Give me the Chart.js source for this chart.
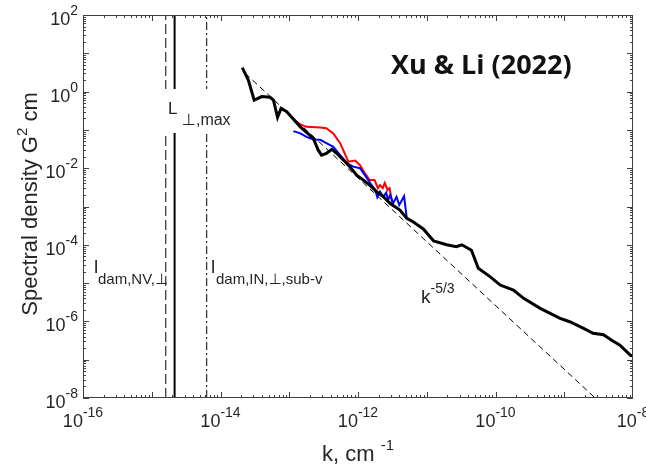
<!DOCTYPE html>
<html>
<head>
<meta charset="utf-8">
<script src="https://cdn.jsdelivr.net/npm/chart.js@4.4.0/dist/chart.umd.min.js"></script>
<style>
  html, body { margin: 0; padding: 0; background: #fff; }
</style>
</head>
<body>
<canvas id="myChart" width="646" height="469"></canvas>
<script>
// measured spectrum (black, thick)
const blackK = [2.07e-14, 2.54e-14, 3.09e-14, 3.98e-14, 5.25e-14, 5.89e-14, 6.76e-14, 7.59e-14, 9.12e-14,
  1.45e-13, 2.24e-13, 2.63e-13, 2.95e-13, 3.47e-13, 4.17e-13, 4.90e-13, 6.17e-13, 7.59e-13, 9.55e-13,
  1.20e-12, 1.48e-12, 1.86e-12, 2.34e-12, 2.95e-12, 4.07e-12, 5.13e-12, 6.31e-12, 8.91e-12,
  1.26e-11, 1.95e-11, 2.69e-11, 3.24e-11, 4.47e-11, 5.62e-11, 8.32e-11,
  1.17e-10, 1.82e-10, 2.57e-10, 4.47e-10, 8.71e-10, 1.20e-9, 1.91e-9, 2.63e-9, 3.72e-9, 4.90e-9, 6.46e-9, 9.12e-9, 1.0e-8];
const blackS = [4.21, 2.01, 0.60, 0.74, 0.71, 0.60, 0.214, 0.363, 0.302,
  0.12, 0.060, 0.030, 0.022, 0.0245, 0.031, 0.0245, 0.0162, 0.011, 0.0066,
  0.0049, 0.0036, 0.00245, 0.0018, 0.0012, 0.00081, 0.00049, 0.0004, 0.00026,
  1.26e-4, 1.0e-4, 8.9e-5, 1.0e-4, 7.2e-5, 2.45e-5, 1.48e-5,
  8.9e-6, 6.6e-6, 4.0e-6, 2.19e-6, 1.20e-6, 9.8e-7, 6.6e-7, 4.9e-7, 4.5e-7, 3.2e-7, 2.4e-7, 1.32e-7, 1.25e-7];

// red spectrum
const redK = [1.15e-13, 1.45e-13, 1.78e-13, 2.82e-13, 3.47e-13, 4.37e-13, 5.50e-13, 7.24e-13, 9.12e-13,
  1.07e-12, 1.26e-12, 1.48e-12, 1.74e-12, 1.95e-12, 2.09e-12, 2.29e-12, 2.45e-12, 2.69e-12, 2.88e-12, 3.09e-12, 3.24e-12];
const redS = [0.182, 0.14, 0.12, 0.115, 0.11, 0.081, 0.045, 0.0148, 0.0158,
  0.012, 0.0074, 0.0049, 0.0049, 0.0030, 0.0036, 0.0030, 0.0041, 0.0027, 0.0030, 0.00148, 0.001];

// blue spectrum
const blueK = [1.15e-13, 1.45e-13, 1.78e-13, 2.24e-13, 2.82e-13, 3.47e-13, 4.37e-13, 5.50e-13, 6.92e-13, 8.51e-13,
  1.07e-12, 1.35e-12, 1.58e-12, 1.78e-12, 1.91e-12, 2.09e-12, 2.34e-12, 2.57e-12, 2.75e-12, 2.95e-12,
  3.24e-12, 3.63e-12, 3.98e-12, 4.68e-12, 5.13e-12];
const blueS = [0.093, 0.081, 0.066, 0.056, 0.055, 0.045, 0.036, 0.022, 0.0135, 0.011,
  0.010, 0.0055, 0.0036, 0.0027, 0.00174, 0.00245, 0.0018, 0.0023, 0.00148, 0.002,
  0.0012, 0.0018, 0.0011, 0.00186, 0.00049];

// k^-5/3 reference line end points
const slopeK = [2.29e-14, 2.82e-9];
const slopeS = [3.0, 1e-8];

// characteristic scales (vertical lines)
const kDamNV = 1.6e-15;
const kLmax = 2.15e-15;
const kDamIN = 6.3e-15;

// axes
const xMin = 1e-16, xMax = 1e-8;
const yMin = 1e-8, yMax = 1e2;
const xTickExps = [-16, -14, -12, -10, -8];
const yTickExps = [2, 0, -2, -4, -6, -8];

const toPts = (ks, ss) => ks.map((k, i) => ({ x: k, y: ss[i] }));
const vline = k => [{ x: k, y: yMin }, { x: k, y: yMax }];

const FONT = '"Liberation Sans", Arial, "DejaVu Sans", sans-serif';
const TXT = '#262626';

function supText(ctx, base, sup, x, y, align, baseSize, supSize, raise) {
  ctx.font = baseSize + 'px ' + FONT;
  const wb = ctx.measureText(base).width;
  ctx.font = supSize + 'px ' + FONT;
  const ws = ctx.measureText(sup).width;
  let x0 = x;
  if (align === 'center') x0 = x - (wb + ws) / 2;
  if (align === 'right') x0 = x - (wb + ws);
  ctx.textAlign = 'left';
  ctx.textBaseline = 'alphabetic';
  ctx.font = baseSize + 'px ' + FONT;
  ctx.fillText(base, x0, y);
  ctx.font = supSize + 'px ' + FONT;
  ctx.fillText(sup, x0 + wb, y - raise);
  return x0 + wb + ws;
}

const frame = {
  id: 'frame',
  afterDatasetsDraw(chart) {
    const { ctx, chartArea: a, scales: { x, y } } = chart;
    ctx.save();
    // label box for L_perp,max
    ctx.fillStyle = '#fff';
    ctx.fillRect(160, 89, 80, 44);

    ctx.strokeStyle = '#404040';
    ctx.lineWidth = 1;
    ctx.strokeRect(a.left + 0.5, a.top + 0.5, a.right - a.left - 1, a.bottom - a.top - 1);

    // inward ticks on all four sides
    ctx.beginPath();
    for (let e = -16; e < -8; e++) {
      for (let m = 1; m <= 9; m++) {
        const px = Math.round(x.getPixelForValue(m * Math.pow(10, e))) + 0.5;
        const len = m === 1 ? 6 : 3;
        ctx.moveTo(px, a.bottom); ctx.lineTo(px, a.bottom - len);
        ctx.moveTo(px, a.top); ctx.lineTo(px, a.top + len);
      }
    }
    for (let e = -8; e < 2; e++) {
      for (let m = 1; m <= 9; m++) {
        const py = Math.round(y.getPixelForValue(m * Math.pow(10, e))) + 0.5;
        const len = m === 1 ? 6 : 3;
        ctx.moveTo(a.left, py); ctx.lineTo(a.left + len, py);
        ctx.moveTo(a.right, py); ctx.lineTo(a.right - len, py);
      }
    }
    ctx.stroke();

    ctx.fillStyle = TXT;
    // tick labels
    xTickExps.forEach(e => {
      const px = x.getPixelForValue(Math.pow(10, e));
      supText(ctx, '10', String(e), px, a.bottom + 29, 'center', 18, 14, 10);
    });
    yTickExps.forEach(e => {
      const py = y.getPixelForValue(Math.pow(10, e));
      supText(ctx, '10', String(e), a.left - 5, py + 10, 'right', 18, 14, 10);
    });

    // axis titles
    supText(ctx, 'k, cm ', '-1', 322, 461, 'left', 22, 15, 11);
    ctx.save();
    ctx.translate(37, 204);
    ctx.rotate(-Math.PI / 2);
    ctx.font = '22px ' + FONT;
    const t1 = 'Spectral density G';
    const t2 = ' cm';
    const w1 = ctx.measureText(t1).width;
    const w3 = ctx.measureText(t2).width;
    ctx.font = '15px ' + FONT;
    const w2 = ctx.measureText('2').width;
    const x0 = -(w1 + w2 + w3) / 2;
    ctx.font = '22px ' + FONT;
    ctx.fillText(t1, x0, 0);
    ctx.font = '15px ' + FONT;
    ctx.fillText('2', x0 + w1, -10);
    ctx.font = '22px ' + FONT;
    ctx.fillText(t2, x0 + w1 + w2, 0);
    ctx.restore();

    // annotations
    ctx.font = '17px ' + FONT;
    ctx.fillText('L', 168, 114);
    ctx.font = '16px ' + FONT;
    ctx.fillText('\u22A5,max', 182, 125);

    ctx.font = '19px ' + FONT;
    ctx.fillText('l', 94, 273);
    ctx.font = '15px ' + FONT;
    ctx.fillText('dam,NV,\u22A5', 98, 284);

    ctx.font = '19px ' + FONT;
    ctx.fillText('l', 211, 273);
    ctx.font = '15px ' + FONT;
    ctx.fillText('dam,IN,\u22A5,sub-v', 216, 284);

    supText(ctx, 'k', '-5/3', 421, 303, 'left', 19, 14, 10);

    ctx.font = 'bold 27px "Open Sans", "Noto Sans", sans-serif';
    ctx.fillStyle = '#111';
    ctx.fillText('Xu & Li (2022)', 391, 74);
    ctx.restore();
  }
};

new Chart(document.getElementById('myChart'), {
  type: 'scatter',
  data: {
    datasets: [
      { data: toPts(blackK, blackS), borderColor: '#000', borderWidth: 3 },
      { data: toPts(blueK, blueS), borderColor: '#0000ff', borderWidth: 2 },
      { data: toPts(redK, redS), borderColor: '#ff0000', borderWidth: 2 },
      { data: toPts(slopeK, slopeS), borderColor: '#000', borderWidth: 1, borderDash: [6, 4] },
      { data: vline(kLmax), borderColor: '#000', borderWidth: 2 },
      { data: vline(kDamNV), borderColor: '#000', borderWidth: 1, borderDash: [10, 4] },
      { data: vline(kDamIN), borderColor: '#000', borderWidth: 1, borderDash: [8, 3, 2, 3] }
    ]
  },
  options: {
    responsive: false,
    devicePixelRatio: 1,
    animation: false,
    showLine: true,
    elements: { point: { radius: 0 }, line: { tension: 0, fill: false } },
    layout: { padding: { left: 83, top: 15, right: 13, bottom: 71 } },
    scales: {
      x: { type: 'logarithmic', min: xMin, max: xMax, display: false },
      y: { type: 'logarithmic', min: yMin, max: yMax, display: false }
    },
    plugins: { legend: { display: false }, tooltip: { enabled: false } }
  },
  plugins: [frame]
});
</script>
</body>
</html>
